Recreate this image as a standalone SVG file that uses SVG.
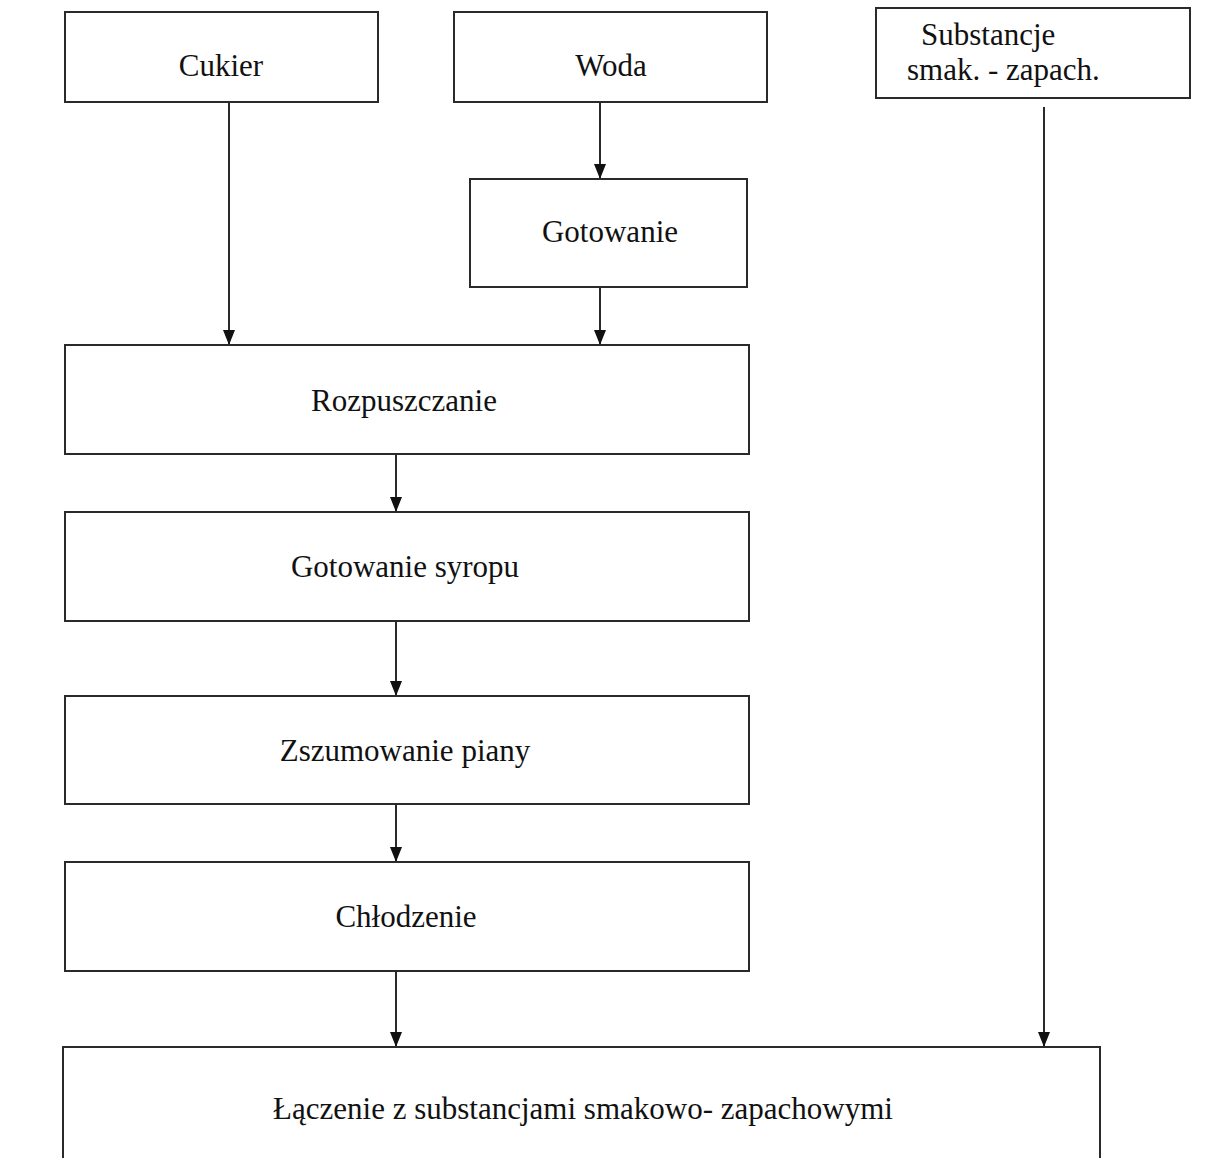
<svg xmlns="http://www.w3.org/2000/svg" width="1206" height="1158" viewBox="0 0 1206 1158">
<style>
.box{fill:#fff;stroke:#2a2a2a;stroke-width:2}
.t{font-family:"Liberation Serif","Times New Roman",serif;font-size:31px;fill:#111}
.c{text-anchor:middle}
.ln{stroke:#2a2a2a;stroke-width:2;fill:none;marker-end:url(#ah)}
</style>
<defs>
<marker id="ah" markerWidth="15" markerHeight="12" refX="15" refY="6" orient="auto" markerUnits="userSpaceOnUse" viewBox="0 0 15 12">
<path d="M0,0 L15,6 L0,12 Z" fill="#111"/>
</marker>
</defs>
<rect width="1206" height="1158" fill="#fff"/>
<g id="connectors">
<line class="ln" x1="229" y1="103" x2="229" y2="345"/>
<line class="ln" x1="600" y1="103" x2="600" y2="179"/>
<line class="ln" x1="600" y1="288" x2="600" y2="345"/>
<line class="ln" x1="396" y1="455" x2="396" y2="512"/>
<line class="ln" x1="396" y1="622" x2="396" y2="696"/>
<line class="ln" x1="396" y1="805" x2="396" y2="862"/>
<line class="ln" x1="396" y1="972" x2="396" y2="1047"/>
<line class="ln" x1="1044" y1="107" x2="1044" y2="1047"/>
</g>
<g id="cukier"><rect class="box" x="65" y="12" width="313" height="90"/><text class="t c" x="221" y="76">Cukier</text></g>
<g id="woda"><rect class="box" x="454" y="12" width="313" height="90"/><text class="t c" x="611" y="76">Woda</text></g>
<g id="substancje"><rect class="box" x="876" y="8" width="314" height="90"/><text class="t" x="921" y="45">Substancje</text><text class="t" x="907" y="80">smak. - zapach.</text></g>
<g id="gotowanie"><rect class="box" x="470" y="179" width="277" height="108"/><text class="t c" x="610" y="242">Gotowanie</text></g>
<g id="rozpuszczanie"><rect class="box" x="65" y="345" width="684" height="109"/><text class="t c" x="404" y="411">Rozpuszczanie</text></g>
<g id="gotowanie-syropu"><rect class="box" x="65" y="512" width="684" height="109"/><text class="t c" x="405" y="577">Gotowanie syropu</text></g>
<g id="zszumowanie"><rect class="box" x="65" y="696" width="684" height="108"/><text class="t c" x="405" y="761">Zszumowanie piany</text></g>
<g id="chlodzenie"><rect class="box" x="65" y="862" width="684" height="109"/><text class="t c" x="406" y="927">Chłodzenie</text></g>
<g id="laczenie"><rect class="box" x="63" y="1047" width="1037" height="130"/><text class="t c" x="583" y="1119">Łączenie z substancjami smakowo- zapachowymi</text></g>
</svg>
